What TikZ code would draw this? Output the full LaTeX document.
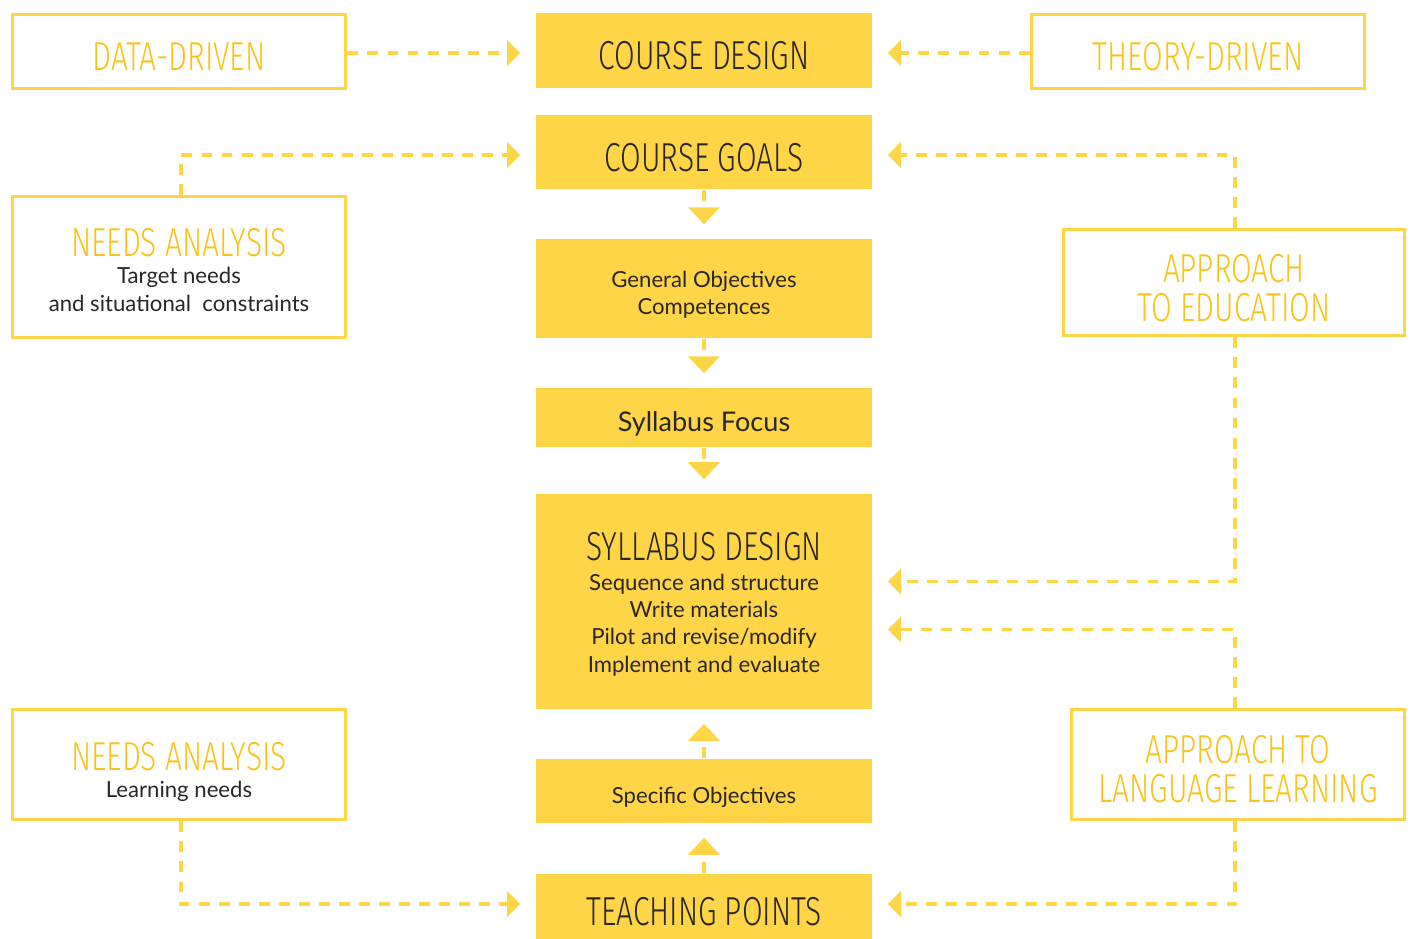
\documentclass[tikz,border=0pt]{standalone}
\usepackage{fontspec}
\setmainfont{Lato}
\IfFontExistsTF{Fira Sans Light}
  {\newfontfamily\headfont[FakeStretch=0.74]{Fira Sans Light}}
  {\newfontfamily\headfont[FakeStretch=0.74]{Fira Sans}}
\usetikzlibrary{positioning, calc, arrows.meta}
\definecolor{sun}{HTML}{FDD547}
\definecolor{suntext}{HTML}{FAC31B}
\definecolor{ink}{HTML}{2A2626}
\newcommand{\headline}[1]{{\headfont\fontsize{11.5}{11}\selectfont #1}}
\newcommand{\pushdown}[1]{\rule{0pt}{#1}}
\tikzset{
	stage/.style={fill=sun, minimum width=3.36cm, inner sep=0pt, align=center, text=ink, font=\fontsize{6.3}{7.7}\selectfont},
	source/.style={draw=sun, line width=1.05pt, minimum width=3.33cm, inner sep=0pt, align=center, text=ink, font=\fontsize{6.3}{7.7}\selectfont},
	title/.style={source, text=suntext, font=\headfont\fontsize{11.5}{11}\selectfont},
	capsdown/.style={text height=0.38cm, text depth=0pt},
	feed/.style={draw=sun, line width=1.1pt, dash pattern=on 3.1pt off 2.6pt, -{Triangle[length=0.13cm,width=0.25cm]}, shorten >=0.15cm},
	flow/.style={draw=sun, line width=1.4pt, dash pattern=on 3.1pt off 2.6pt, -{Triangle[length=0.17cm,width=0.31cm]}, shorten >=0.14cm},
}

\begin{document}
\begin{tikzpicture}[x=0.01cm, y=-0.01cm]
	\useasboundingbox (0,0) rectangle (1415,938);
	
	% centre column
	\node[stage, capsdown, minimum height=0.75cm] (design) at (704,50.5) {\headline{COURSE DESIGN}};
	\node[stage, capsdown, minimum height=0.74cm] (goals) at (704,152) {\headline{COURSE GOALS}};
	\node[stage, minimum height=0.99cm] (general) at (704,288.5) {\pushdown{0.295cm}General Objectives\\Competences};
	\node[stage, minimum height=0.59cm, font=\fontsize{7.7}{9}\selectfont, text height=0.27cm, text depth=0pt] (focus) at (704,417.5) {Syllabus Focus};
	\node[stage, minimum height=2.15cm] (sdesign) at (704,601.5) {\pushdown{0.33cm}\headline{SYLLABUS DESIGN}\\[1pt]Sequence and structure\\Write materials\\Pilot and revise/modify\\Implement and evaluate};
	\node[stage, minimum height=0.64cm, text height=0.24cm, text depth=0pt] (specific) at (704,791) {Specific Objectives};
	\node[stage, minimum height=0.76cm, text height=0.26cm, text depth=0pt] (teach) at (704,912) {\headline{TEACHING POINTS}};
	
	% left column
	\node[title, capsdown, minimum height=0.74cm] (data) at (179,51.5) {DATA-DRIVEN};
	\node[source, minimum height=1.41cm] (needsA) at (179,267) {\pushdown{0.34cm}{\color{suntext}\headline{NEEDS ANALYSIS}}\\Target needs\\and situational\ \ constraints};
	\node[source, minimum height=1.10cm] (needsB) at (179,764.5) {\pushdown{0.43cm}{\color{suntext}\headline{NEEDS ANALYSIS}}\\Learning needs};
	
	% right column
	\node[title, capsdown, minimum height=0.74cm] (theory) at (1198,51.5) {THEORY-DRIVEN};
	\node[title, minimum width=3.41cm, minimum height=1.06cm] (edu) at (1234,282.5) {\pushdown{0.40cm}APPROACH\\TO EDUCATION};
	\node[title, minimum height=1.10cm] (lang) at (1238,764.5) {\pushdown{0.37cm}APPROACH TO\\LANGUAGE LEARNING};
	
	% down and up the column
	\draw[flow] (goals) -- (general);
	\draw[flow] (general) -- (focus);
	\draw[flow] (focus) -- (sdesign);
	\draw[flow] (specific) -- (sdesign);
	\draw[flow] (teach) -- (specific);
	
	% inputs from the sides
	\draw[feed] ($(data.east)+(0,1.5)$) -- ($(design.west)+(0,2.5)$);
	\draw[feed] ($(theory.west)+(0,1.5)$) -- ($(design.east)+(0,2.5)$);
	\draw[feed] ($(needsA.north)+(2,0)$) |- ($(goals.west)+(0,3)$);
	\draw[feed] ($(edu.north)+(1,0)$) |- ($(goals.east)+(0,3)$);
	\draw[feed] ($(edu.south)+(1,0)$) |- ($(sdesign.east)+(0,-20)$);
	\draw[feed] ($(lang.north)+(-3,0)$) |- ($(sdesign.east)+(0,28)$);
	\draw[feed] ($(needsB.south)+(2,0)$) |- ($(teach.west)+(0,-8)$);
	\draw[feed] ($(lang.south)+(-3,0)$) |- ($(teach.east)+(0,-8)$);
\end{tikzpicture}
\end{document}
